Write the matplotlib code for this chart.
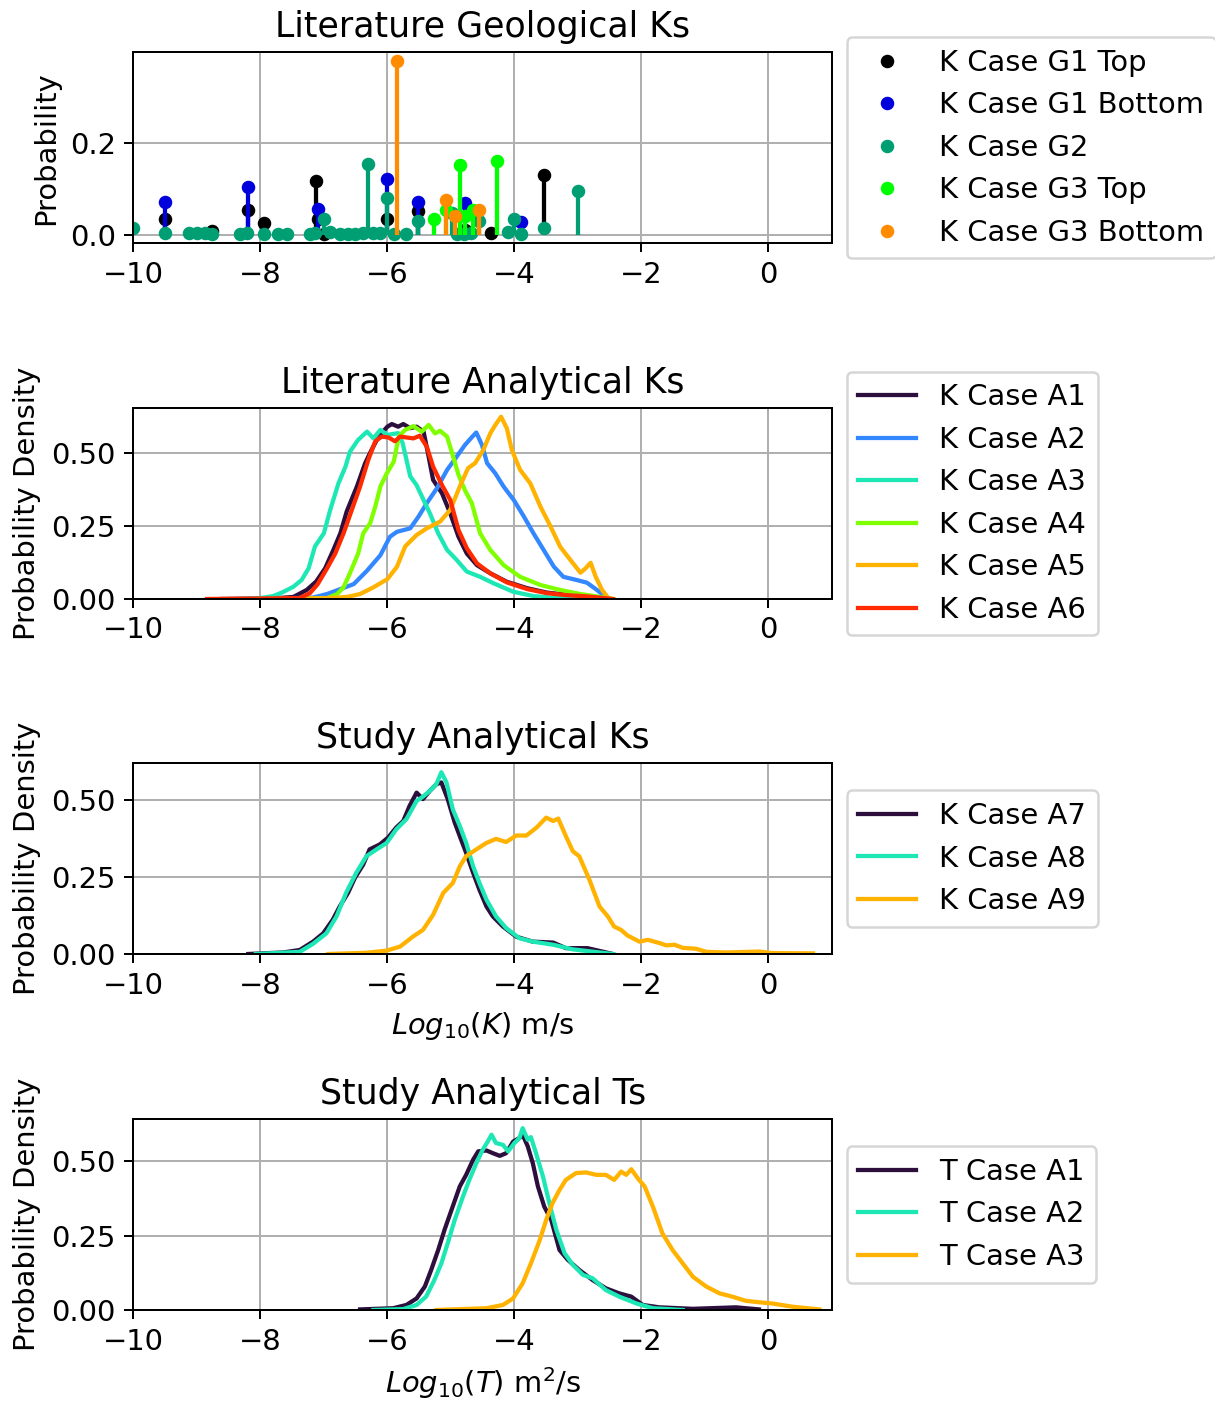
import matplotlib
matplotlib.use("Agg")
import matplotlib.pyplot as plt
from matplotlib.lines import Line2D

# ---------------- Panel 1: Literature Geological Ks (stems) ----------------
g1_top_x = [-9.5, -8.76, -8.2, -7.95, -7.13, -7.1, -7.0, -6.0, -5.52, -4.78, -4.37, -3.53]
g1_top_y = [0.035, 0.007, 0.054, 0.025, 0.117, 0.035, 0.002, 0.033, 0.051, 0.010, 0.003, 0.130]

g1_bot_x = [-9.5, -8.2, -7.1, -6.0, -5.52, -4.78, -3.89]
g1_bot_y = [0.071, 0.105, 0.056, 0.121, 0.072, 0.068, 0.027]

g2_x = [-10.0, -9.5, -9.13, -9.0, -8.87, -8.76, -8.32, -8.21, -7.95, -7.72, -7.58, -7.22,
        -7.14, -7.0, -6.9, -6.75, -6.62, -6.51, -6.38, -6.3, -6.22, -6.12, -6.0, -5.9,
        -5.7, -5.52, -4.98, -4.9, -4.8, -4.68, -4.56, -4.1, -4.0, -3.89, -3.53, -3.0]
g2_y = [0.015, 0.004, 0.003, 0.003, 0.003, 0.002, 0.002, 0.003, 0.002, 0.002, 0.002, 0.002,
        0.003, 0.034, 0.005, 0.002, 0.002, 0.002, 0.003, 0.154, 0.003, 0.003, 0.080, 0.002,
        0.002, 0.029, 0.047, 0.002, 0.002, 0.003, 0.030, 0.006, 0.033, 0.002, 0.015, 0.096]

g3_top_x = [-5.27, -5.08, -4.86, -4.78, -4.65, -4.27]
g3_top_y = [0.034, 0.054, 0.151, 0.040, 0.054, 0.160]

g3_bot_x = [-5.85, -5.08, -4.94, -4.56]
g3_bot_y = [0.379, 0.076, 0.040, 0.054]

geo_labels = ["K Case G1 Top", "K Case G1 Bottom", "K Case G2", "K Case G3 Top", "K Case G3 Bottom"]
geo_colors = ["black", "#0000dd", "#009E73", "#00ff00", "#ff8c00"]

# ---------------- Panel 2: Literature Analytical Ks ----------------
a1_x = [-8.6, -7.8, -7.48, -7.27, -7.12, -6.98, -6.85, -6.74, -6.64, -6.48, -6.35, -6.25, -6.14,
        -6.0, -5.93, -5.83, -5.75, -5.64, -5.54, -5.43, -5.35, -5.28, -5.14, -5.01, -4.88,
        -4.75, -4.59, -4.38, -4.12, -3.8, -3.49, -3.17, -2.86, -2.49]
a1_y = [0.0, 0.002, 0.007, 0.031, 0.060, 0.105, 0.168, 0.225, 0.300, 0.385, 0.465, 0.510, 0.556,
        0.590, 0.599, 0.590, 0.599, 0.585, 0.590, 0.573, 0.487, 0.408, 0.362, 0.293, 0.213,
        0.156, 0.116, 0.088, 0.059, 0.037, 0.022, 0.014, 0.009, 0.0]

a2_x = [-8.0, -7.17, -6.95, -6.74, -6.53, -6.32, -6.11, -5.96, -5.85, -5.64, -5.51, -5.38, -5.22,
        -5.06, -4.91, -4.78, -4.67, -4.6, -4.51, -4.43, -4.3, -4.17, -4.01, -3.85, -3.7,
        -3.54, -3.38, -3.23, -3.02, -2.86, -2.7, -2.57, -2.49]
a2_y = [0.0, 0.005, 0.017, 0.034, 0.051, 0.097, 0.150, 0.213, 0.230, 0.242, 0.282, 0.328, 0.379,
        0.442, 0.487, 0.527, 0.554, 0.570, 0.527, 0.465, 0.430, 0.385, 0.339, 0.282, 0.225,
        0.168, 0.111, 0.076, 0.065, 0.056, 0.031, 0.008, 0.0]

a3_x = [-8.3, -8.0, -7.8, -7.65, -7.48, -7.35, -7.24, -7.14, -7.0, -6.9, -6.77, -6.66, -6.59,
        -6.46, -6.32, -6.22, -6.11, -6.0, -5.83, -5.76, -5.64, -5.54, -5.43, -5.33, -5.2,
        -5.06, -4.91, -4.75, -4.54, -4.33, -4.02, -3.7, -3.39, -3.0]
a3_y = [0.0, 0.003, 0.010, 0.023, 0.042, 0.065, 0.105, 0.180, 0.225, 0.305, 0.396, 0.453, 0.504,
        0.545, 0.573, 0.550, 0.579, 0.562, 0.568, 0.534, 0.420, 0.390, 0.339, 0.293, 0.225,
        0.168, 0.134, 0.094, 0.076, 0.054, 0.025, 0.010, 0.004, 0.0]

a4_x = [-7.9, -6.95, -6.79, -6.69, -6.59, -6.46, -6.38, -6.27, -6.19, -6.11, -6.01, -5.9, -5.82,
        -5.72, -5.59, -5.46, -5.35, -5.25, -5.17, -5.06, -4.98, -4.88, -4.78, -4.67, -4.54,
        -4.38, -4.17, -3.91, -3.59, -3.28, -2.96, -2.65, -2.44]
a4_y = [0.0, 0.003, 0.017, 0.040, 0.088, 0.156, 0.225, 0.260, 0.317, 0.385, 0.430, 0.470, 0.556,
        0.579, 0.592, 0.573, 0.596, 0.567, 0.576, 0.556, 0.499, 0.425, 0.373, 0.328, 0.225,
        0.168, 0.116, 0.076, 0.048, 0.031, 0.017, 0.007, 0.0]

a5_x = [-7.7, -6.95, -6.64, -6.43, -6.22, -6.0, -5.85, -5.72, -5.54, -5.38, -5.17, -5.01, -4.86,
        -4.73, -4.62, -4.49, -4.38, -4.3, -4.21, -4.12, -4.04, -3.91, -3.75, -3.59, -3.43,
        -3.28, -3.12, -2.96, -2.88, -2.8, -2.72, -2.62, -2.51]
a5_y = [0.0, 0.003, 0.007, 0.017, 0.040, 0.068, 0.110, 0.180, 0.219, 0.242, 0.265, 0.305, 0.385,
        0.448, 0.465, 0.510, 0.567, 0.596, 0.624, 0.585, 0.510, 0.442, 0.396, 0.316, 0.248,
        0.179, 0.134, 0.090, 0.105, 0.124, 0.076, 0.031, 0.0]

a6_x = [-8.84, -7.38, -7.22, -7.1, -6.95, -6.82, -6.69, -6.56, -6.43, -6.3, -6.19, -6.09, -5.98,
        -5.88, -5.8, -5.59, -5.49, -5.38, -5.28, -5.14, -5.01, -4.88, -4.75, -4.59, -4.38,
        -4.12, -3.8, -3.49, -3.17, -2.86, -2.45]
a6_y = [0.0, 0.003, 0.020, 0.050, 0.105, 0.156, 0.225, 0.305, 0.385, 0.477, 0.540, 0.556, 0.553,
        0.540, 0.556, 0.550, 0.559, 0.522, 0.453, 0.390, 0.339, 0.236, 0.174, 0.122, 0.088,
        0.057, 0.034, 0.020, 0.013, 0.009, 0.0]

lit_labels = ["K Case A1", "K Case A2", "K Case A3", "K Case A4", "K Case A5", "K Case A6"]
lit_colors = ["#2d0f3e", "#3388ff", "#1de8b5", "#7fff00", "#ffb300", "#ff2a00"]

# ---------------- Panel 3: Study Analytical Ks ----------------
a7_x = [-8.19, -7.64, -7.38, -7.17, -7.01, -6.86, -6.75, -6.62, -6.51, -6.38, -6.28, -6.12, -5.99,
        -5.86, -5.75, -5.65, -5.54, -5.44, -5.33, -5.23, -5.15, -5.05, -4.94, -4.84, -4.76,
        -4.65, -4.55, -4.44, -4.34, -4.18, -3.97, -3.71, -3.39, -3.19, -2.85, -2.66, -2.45]
a7_y = [0.0, 0.005, 0.013, 0.040, 0.067, 0.111, 0.154, 0.198, 0.247, 0.290, 0.339, 0.355, 0.377,
        0.410, 0.431, 0.480, 0.523, 0.502, 0.529, 0.550, 0.556, 0.502, 0.426, 0.371, 0.328,
        0.263, 0.208, 0.154, 0.122, 0.089, 0.056, 0.040, 0.037, 0.019, 0.019, 0.010, 0.0]

a8_x = [-8.07, -7.38, -7.17, -6.96, -6.8, -6.65, -6.49, -6.33, -6.17, -6.01, -5.86, -5.7, -5.54,
        -5.44, -5.33, -5.23, -5.15, -5.07, -4.97, -4.86, -4.76, -4.65, -4.55, -4.44, -4.29,
        -4.13, -3.92, -3.71, -3.39, -3.08, -2.45]
a8_y = [0.0, 0.007, 0.033, 0.067, 0.122, 0.198, 0.263, 0.317, 0.339, 0.360, 0.404, 0.437, 0.496,
        0.510, 0.529, 0.550, 0.589, 0.556, 0.469, 0.415, 0.360, 0.284, 0.230, 0.176, 0.122,
        0.084, 0.051, 0.040, 0.030, 0.015, 0.0]

a9_x = [-6.93, -6.33, -6.01, -5.8, -5.6, -5.44, -5.28, -5.12, -4.97, -4.86, -4.76, -4.6, -4.44,
        -4.29, -4.13, -3.97, -3.81, -3.65, -3.5, -3.39, -3.31, -3.19, -3.08, -2.98, -2.82,
        -2.66, -2.53, -2.43, -2.32, -2.22, -2.03, -1.9, -1.71, -1.61, -1.48, -1.35, -1.14,
        -0.98, -0.67, -0.14, 0.06, 0.7]
a9_y = [0.0, 0.004, 0.011, 0.024, 0.056, 0.078, 0.127, 0.198, 0.230, 0.284, 0.317, 0.339, 0.360,
        0.373, 0.363, 0.384, 0.384, 0.410, 0.442, 0.431, 0.439, 0.382, 0.333, 0.317, 0.241,
        0.154, 0.122, 0.089, 0.078, 0.060, 0.040, 0.046, 0.035, 0.028, 0.030, 0.020, 0.017,
        0.007, 0.005, 0.008, 0.003, 0.002]

study_k_labels = ["K Case A7", "K Case A8", "K Case A9"]
study_colors = ["#2d0f3e", "#1de8b5", "#ffb300"]

# ---------------- Panel 4: Study Analytical Ts ----------------
t1_x = [-6.43, -5.91, -5.7, -5.54, -5.41, -5.31, -5.2, -5.1, -4.99, -4.86, -4.76, -4.65, -4.57,
        -4.44, -4.34, -4.23, -4.13, -4.02, -3.92, -3.87, -3.79, -3.71, -3.63, -3.53, -3.42,
        -3.29, -3.16, -2.98, -2.77, -2.56, -2.35, -2.16, -1.98, -1.72, -1.19, -0.51, -0.15]
t1_y = [0.002, 0.006, 0.017, 0.039, 0.079, 0.135, 0.202, 0.270, 0.337, 0.416, 0.455, 0.506, 0.534,
        0.537, 0.528, 0.519, 0.528, 0.567, 0.579, 0.590, 0.551, 0.494, 0.416, 0.348, 0.303,
        0.202, 0.169, 0.135, 0.101, 0.073, 0.056, 0.045, 0.017, 0.009, 0.004, 0.009, 0.002]

t2_x = [-6.22, -5.75, -5.54, -5.39, -5.26, -5.15, -5.05, -4.94, -4.81, -4.71, -4.6, -4.5, -4.42,
        -4.36, -4.29, -4.18, -4.1, -4.0, -3.92, -3.87, -3.79, -3.74, -3.66, -3.55, -3.45,
        -3.34, -3.21, -3.08, -2.92, -2.77, -2.56, -2.35, -2.08, -1.82, -1.35]
t2_y = [0.0, 0.003, 0.017, 0.045, 0.101, 0.157, 0.225, 0.303, 0.382, 0.438, 0.494, 0.539, 0.567,
        0.590, 0.562, 0.556, 0.534, 0.562, 0.579, 0.612, 0.573, 0.582, 0.528, 0.449, 0.360,
        0.270, 0.191, 0.152, 0.118, 0.107, 0.067, 0.045, 0.022, 0.006, 0.0]

t3_x = [-5.23, -4.44, -4.18, -4.02, -3.87, -3.74, -3.6, -3.5, -3.4, -3.29, -3.19, -3.03, -2.87,
        -2.71, -2.56, -2.43, -2.32, -2.24, -2.16, -2.06, -1.95, -1.82, -1.67, -1.51, -1.35,
        -1.19, -0.98, -0.77, -0.57, -0.36, -0.15, 0.06, 0.38, 0.8]
t3_y = [0.0, 0.006, 0.017, 0.039, 0.090, 0.157, 0.236, 0.303, 0.360, 0.404, 0.438, 0.461, 0.463,
        0.455, 0.455, 0.438, 0.466, 0.455, 0.474, 0.444, 0.416, 0.348, 0.258, 0.202, 0.157,
        0.112, 0.079, 0.056, 0.045, 0.031, 0.026, 0.022, 0.011, 0.002]

study_t_labels = ["T Case A1", "T Case A2", "T Case A3"]

xticks = [-10, -8, -6, -4, -2, 0]

# ---------------- Figure ----------------
W, H, DPI = 1215, 1408, 180
plt.rcParams['font.size'] = 11.6
fig = plt.figure(figsize=(W / DPI, H / DPI), dpi=DPI)

LW = 1.7
TITLE_FS = 13.9
left = 133.3 / W
width = 698.7 / W
height = 191.0 / H
bottoms_px = [243.3, 599.0, 954.0, 1310.0]
axes = [fig.add_axes([left, 1 - b / H, width, height]) for b in bottoms_px]
leg_kw = dict(loc='center left', bbox_to_anchor=(1.0, 0.5), handlelength=2.0)

# Panel 1
ax = axes[0]
geo_x = [g1_top_x, g1_bot_x, g2_x, g3_top_x, g3_bot_x]
geo_y = [g1_top_y, g1_bot_y, g2_y, g3_top_y, g3_bot_y]
for xs, ys, c in zip(geo_x, geo_y, geo_colors):
    ml, sl, bl = ax.stem(xs, ys, linefmt='-', markerfmt='o', basefmt=' ')
    plt.setp(sl, color=c, linewidth=LW)
    plt.setp(ml, color=c, markersize=4.4)
handles = [Line2D([], [], marker='o', ls='none', color=c, markersize=4.4) for c in geo_colors]
ax.set_title("Literature Geological Ks", fontsize=TITLE_FS)
ax.set_ylabel("Probability")
ax.set_yticks([0.0, 0.2])
ax.legend(handles, geo_labels, **leg_kw)

# Panel 2
ax = axes[1]
lit_x = [a1_x, a2_x, a3_x, a4_x, a5_x, a6_x]
lit_y = [a1_y, a2_y, a3_y, a4_y, a5_y, a6_y]
for xs, ys, c, lab in zip(lit_x, lit_y, lit_colors, lit_labels):
    ax.plot(xs, ys, color=c, lw=LW, label=lab)
ax.set_title("Literature Analytical Ks", fontsize=TITLE_FS)
ax.set_ylabel("Probability Density")
ax.set_ylim(0, 0.654)
ax.set_yticks([0.0, 0.25, 0.5])
ax.legend(**leg_kw)

# Panel 3
ax = axes[2]
for xs, ys, c, lab in zip([a7_x, a8_x, a9_x], [a7_y, a8_y, a9_y], study_colors, study_k_labels):
    ax.plot(xs, ys, color=c, lw=LW, label=lab)
ax.set_title("Study Analytical Ks", fontsize=TITLE_FS)
ax.set_ylabel("Probability Density")
ax.set_xlabel(r"$Log_{10}(K)$ m/s")
ax.set_ylim(0, 0.619)
ax.set_yticks([0.0, 0.25, 0.5])
ax.legend(**leg_kw)

# Panel 4
ax = axes[3]
for xs, ys, c, lab in zip([t1_x, t2_x, t3_x], [t1_y, t2_y, t3_y], study_colors, study_t_labels):
    ax.plot(xs, ys, color=c, lw=LW, label=lab)
ax.set_title("Study Analytical Ts", fontsize=TITLE_FS)
ax.set_ylabel("Probability Density")
ax.set_xlabel(r"$Log_{10}(T)$ m$^2$/s")
ax.set_ylim(0, 0.643)
ax.set_yticks([0.0, 0.25, 0.5])
ax.legend(**leg_kw)

for ax in axes:
    ax.set_xlim(-10, 1)
    ax.set_xticks(xticks)
    ax.grid(True)
    ax.set_axisbelow(True)

fig.savefig("out.png", dpi=DPI)
